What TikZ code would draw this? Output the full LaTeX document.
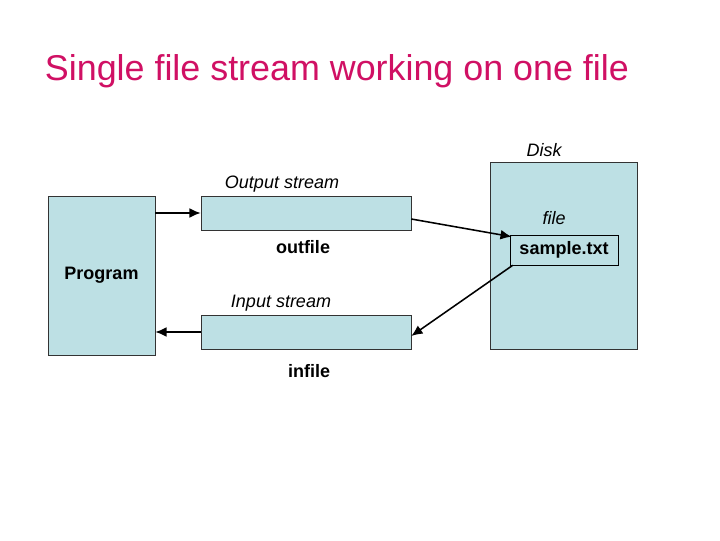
\documentclass[tikz,border=0pt]{standalone}
\usepackage{fontspec}
\setmainfont{Liberation Sans}
\usepackage{tikz}
\usetikzlibrary{shapes.geometric, arrows.meta}
\definecolor{boxblue}{RGB}{189,224,228}
\definecolor{titlepink}{RGB}{208,16,100}

\begin{document}
\begin{tikzpicture}[x=0.025cm, y=-0.025cm]
    \tikzstyle{arrow} = [line width=1.1pt,->,>={Latex[length=8pt,width=7pt]}]
    \tikzstyle{box} = [rectangle, draw=black!80, fill=boxblue, inner sep=0pt]
    \tikzstyle{boldlbl} = [font=\fontsize{12.8}{14}\selectfont\bfseries]
    \tikzstyle{itlbl} = [font=\fontsize{12.8}{14}\selectfont\itshape]
    \useasboundingbox (0,0) rectangle (720,540);
    \node[anchor=west, text=titlepink, font=\fontsize{25.5}{30}\selectfont](title) at (40,71){Single file stream working on one file};
    \node[box, minimum width=107*0.025cm, minimum height=159*0.025cm, boldlbl](prog) at (101.5,275.5){\raisebox{-2pt}{Program}};
    \node[box, minimum width=210*0.025cm, minimum height=34*0.025cm](out) at (306,213){};
    \node[box, minimum width=210*0.025cm, minimum height=34*0.025cm](in) at (306,332){};
    \node[box, minimum width=147*0.025cm, minimum height=187*0.025cm](disk) at (563.5,255.5){};
    \node[box, draw=black, minimum width=108*0.025cm, minimum height=30*0.025cm, boldlbl](txt) at (564,250){\raisebox{-1pt}{sample.txt}};
    \node[itlbl](outlbl) at (282,184){Output stream};
    \node[boldlbl](outname) at (303,247){outfile};
    \node[itlbl](inlbl) at (281,303){Input stream};
    \node[boldlbl](inname) at (309,371){infile};
    \node[itlbl](disklbl) at (544,150){Disk};
    \node[itlbl](filelbl) at (554,218){file};
    \draw[arrow] (prog.east |- out.west) -- (out.west);
    \draw[arrow] ([yshift=-6*0.025cm]out.east) -- ([xshift=2*0.025cm,yshift=-2*0.025cm]txt.north west);
    \draw[arrow] ([xshift=3*0.025cm]txt.south west) -- ([yshift=-4*0.025cm]in.east);
    \draw[arrow] (in.west) -- (prog.east |- in.west);
\end{tikzpicture}
\end{document}
